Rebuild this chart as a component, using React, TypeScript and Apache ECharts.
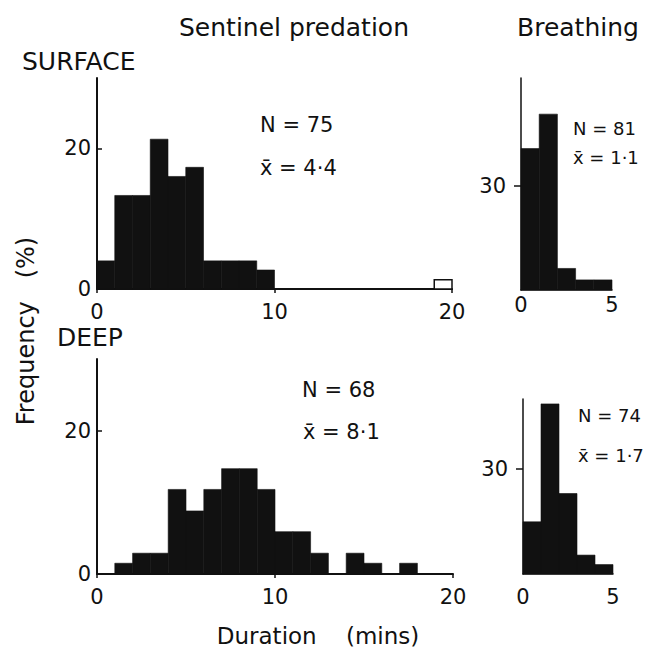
import React, { useEffect, useRef } from "react";
import * as echarts from "echarts";

// Frequencies (%) per 1-min bin, bins start at 0
const surfacePredation = [4, 13.3, 13.3, 21.3, 16, 17.3, 4, 4, 4, 2.7, 0, 0, 0, 0, 0, 0, 0, 0, 0, 0];
const surfaceOpenBinStarts = [19];
const surfaceOpenBinValues = [1.3];
const deepPredation = [0, 1.5, 2.9, 2.9, 11.8, 8.8, 11.8, 14.7, 14.7, 11.8, 5.9, 5.9, 2.9, 0, 2.9, 1.5, 0, 1.5, 0, 0];
const surfaceBreathing = [40.7, 50.6, 6.2, 2.9, 2.9];
const deepBreathing = [14.9, 48.6, 23, 5.4, 2.7];

const FONT = "DejaVu Sans";
const INK = "#111";

function toBins(values: number[]) {
  return values
    .map((v, i) => [i, i + 1, v])
    .filter((d) => d[2] > 0);
}

function histSeries(idx: number, data: number[][], hollow = false) {
  return {
    type: "custom",
    xAxisIndex: idx,
    yAxisIndex: idx,
    encode: { x: [0, 1], y: 2 },
    data,
    renderItem: (params: any, api: any) => {
      const s = api.value(0);
      const e = api.value(1);
      const v = api.value(2);
      const p0 = api.coord([s, v]);
      const p1 = api.coord([e, 0]);
      return {
        type: "rect",
        shape: { x: p0[0], y: p0[1], width: p1[0] - p0[0], height: p1[1] - p0[1] },
        style: hollow
          ? { fill: "#fff", stroke: INK, lineWidth: 1.5 }
          : { fill: INK, stroke: INK, lineWidth: 0.6 },
      };
    },
  };
}

const labelStyle = { color: INK, fontFamily: FONT, fontSize: 21 };

function leftX(idx: number) {
  return {
    type: "value",
    gridIndex: idx,
    min: 0,
    max: 20,
    interval: 10,
    axisLine: { show: true, lineStyle: { color: INK, width: 2 } },
    axisTick: { show: true, length: 4, lineStyle: { color: INK, width: 1.5 } },
    axisLabel: { ...labelStyle, margin: 12 },
    splitLine: { show: false },
  };
}

function leftY(idx: number) {
  return {
    type: "value",
    gridIndex: idx,
    min: 0,
    max: 30,
    interval: 10,
    axisLine: { show: true, lineStyle: { color: INK, width: 2 } },
    axisTick: { show: true, inside: true, length: 5, customValues: [20], lineStyle: { color: INK, width: 1.5 } },
    axisLabel: { ...labelStyle, margin: 6, customValues: [0, 20] },
    splitLine: { show: false },
  };
}

function rightX(idx: number, margin: number) {
  return {
    type: "value",
    gridIndex: idx,
    min: 0,
    max: 5,
    interval: 5,
    axisLine: { show: true, lineStyle: { color: INK, width: 1.5 } },
    axisTick: { show: false },
    axisLabel: { ...labelStyle, margin },
    splitLine: { show: false },
  };
}

function rightY(idx: number, max: number) {
  return {
    type: "value",
    gridIndex: idx,
    min: 0,
    max,
    interval: 10,
    axisLine: { show: true, lineStyle: { color: INK, width: 1.5 } },
    axisTick: { show: true, inside: false, length: 7, customValues: [30], lineStyle: { color: INK, width: 1.5 } },
    axisLabel: { ...labelStyle, margin: 15, customValues: [30] },
    splitLine: { show: false },
  };
}

function txt(text: string, x: number, y: number, size: number, align = "left", rotation = 0) {
  return {
    type: "text",
    x,
    y,
    rotation,
    style: {
      text,
      fill: INK,
      font: `${size}px "${FONT}"`,
      textAlign: align,
      textVerticalAlign: "middle",
    },
  };
}

export default function App() {
  const ref = useRef<HTMLDivElement>(null);
  useEffect(() => {
    document.body.style.margin = "0";
    const chart = echarts.init(ref.current!, undefined, { renderer: "svg" });
    chart.setOption({
      animation: false,
      backgroundColor: "#fff",
      grid: [
        { left: 97, top: 78, width: 355, height: 211 },
        { left: 97, top: 359, width: 356, height: 215 },
        { left: 521, top: 78, width: 91, height: 212 },
        { left: 523, top: 399, width: 90, height: 175 },
      ],
      xAxis: [leftX(0), leftX(1), rightX(2, 4), rightX(3, 12)],
      yAxis: [leftY(0), leftY(1), rightY(2, 61), rightY(3, 50)],
      series: [
        histSeries(0, toBins(surfacePredation)),
        histSeries(
          0,
          surfaceOpenBinStarts.map((s, i) => [s, s + 1, surfaceOpenBinValues[i]]),
          true
        ),
        histSeries(1, toBins(deepPredation)),
        histSeries(2, toBins(surfaceBreathing)),
        histSeries(3, toBins(deepBreathing)),
      ],
      graphic: [
        txt("Sentinel predation", 294, 27, 25, "center"),
        txt("Breathing", 517, 27, 25),
        txt("SURFACE", 22, 61, 25),
        txt("DEEP", 57, 337, 25),
        txt("N = 75", 260, 125, 21),
        txt("x\u0304 = 4\u00b74", 260, 168, 21),
        txt("N = 68", 302, 390, 21),
        txt("x\u0304 = 8\u00b71", 303, 432, 21),
        txt("N = 81", 573, 128, 18),
        txt("x\u0304 = 1\u00b71", 573, 157, 18),
        txt("N = 74", 578, 415, 18),
        txt("x\u0304 = 1\u00b77", 578, 455, 18),
        txt("Frequency   (%)", 26, 331, 24, "center", Math.PI / 2),
        txt("Duration    (mins)", 318, 636, 23, "center"),
      ],
    });
    return () => chart.dispose();
  }, []);
  return <div ref={ref} style={{ width: 647, height: 652 }} />;
}
